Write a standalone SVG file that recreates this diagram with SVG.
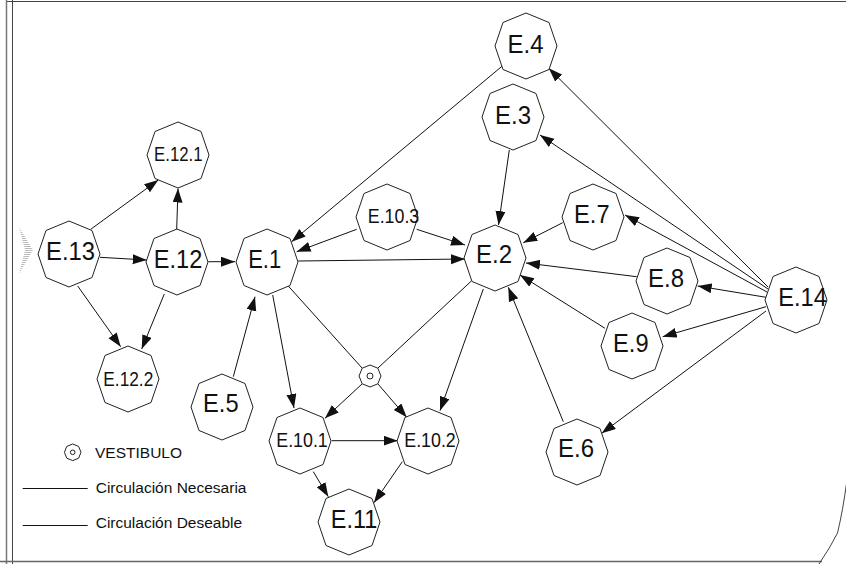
<svg xmlns="http://www.w3.org/2000/svg" xmlns:xlink="http://www.w3.org/1999/xlink" width="846" height="564" viewBox="0 0 846 564">
<style>
.oct{fill:#fff;stroke:#222;stroke-width:1}
.lbl{font-family:"Liberation Sans",Arial,sans-serif;font-size:25px;fill:#111;text-anchor:middle}
.sm{font-size:20px}
.leg{font-family:"Liberation Sans",Arial,sans-serif;font-size:15.5px;fill:#111}
.e{stroke:#111;stroke-width:1;fill:none}
.a{marker-end:url(#arr)}
.bd{stroke:#444;stroke-width:1;fill:none}
</style>
<defs>
<marker id="arr" markerUnits="userSpaceOnUse" markerWidth="15" markerHeight="11" refX="14" refY="5" orient="auto">
<path d="M0,0 L14,5 L0,10 z" fill="#111"/>
</marker>
<polygon id="oct" points="0,-33 23,-23.5 31,0 23,23.5 0,33 -23,23.5 -31,0 -23,-23.5"/>
<pattern id="hatch" width="4" height="2" patternUnits="userSpaceOnUse">
<rect width="4" height="2" fill="#fff"/>
<rect width="4" height="1" fill="#bbb"/>
</pattern>
</defs>
<rect width="846" height="564" fill="#fff"/>
<g id="border">
<line class="bd" x1="6" y1="1.5" x2="846" y2="1.5"/>
<line x1="6.5" y1="0" x2="6.5" y2="564" stroke="#777" stroke-width="1.5"/>
<line class="bd" x1="12.5" y1="0" x2="12.5" y2="564"/>
<line x1="0" y1="561.5" x2="822" y2="561.5" stroke="#666" stroke-width="1.5"/>
<path class="bd" d="M847,480 Q843,510 837.5,533 Q830,548 819,564"/>
<polygon points="19,227 33,250 19,274 25,250" fill="url(#hatch)"/>
</g>
<g id="connectors">
<line class="e a" x1="90.7" y1="229.3" x2="158.3" y2="180"/>
<line class="e a" x1="176.7" y1="229" x2="178" y2="188.5"/>
<line class="e a" x1="100" y1="257.3" x2="146.7" y2="260"/>
<line class="e a" x1="77.7" y1="286" x2="120.7" y2="346.7"/>
<line class="e a" x1="164.3" y1="294" x2="141.7" y2="349"/>
<line class="e a" x1="208.3" y1="261.7" x2="235" y2="261.7"/>
<line class="e a" x1="502.3" y1="66" x2="291.7" y2="241.7"/>
<line class="e a" x1="356.7" y1="229.3" x2="296.7" y2="251.7"/>
<line class="e a" x1="416.7" y1="229.3" x2="465" y2="245"/>
<line class="e a" x1="298.3" y1="261" x2="465" y2="259"/>
<line class="e a" x1="509.3" y1="150" x2="498.5" y2="225"/>
<line class="e a" x1="562.7" y1="222.7" x2="523.3" y2="242.7"/>
<line class="e a" x1="636.7" y1="276.7" x2="526" y2="263"/>
<line class="e a" x1="605" y1="328.3" x2="520" y2="275"/>
<line class="e a" x1="563.3" y1="421.7" x2="508.3" y2="287.3"/>
<line class="e a" x1="768" y1="287" x2="548.8" y2="68.3"/>
<line class="e a" x1="768" y1="289" x2="540" y2="135"/>
<line class="e a" x1="767" y1="292" x2="625" y2="215"/>
<line class="e a" x1="766" y1="297.3" x2="697.7" y2="286"/>
<line class="e a" x1="766" y1="306.7" x2="662.7" y2="336.7"/>
<line class="e a" x1="766" y1="311" x2="601.7" y2="433.3"/>
<line class="e a" x1="233.3" y1="376.7" x2="255" y2="296.7"/>
<line class="e a" x1="272.7" y1="295" x2="294" y2="408"/>
<line class="e" x1="288.3" y1="286" x2="362.2" y2="368.2"/>
<line class="e" x1="471.7" y1="280.7" x2="377.8" y2="368.2"/>
<line class="e a" x1="362.2" y1="383.8" x2="325" y2="418.3"/>
<line class="e a" x1="377.8" y1="383.8" x2="406.7" y2="417.3"/>
<line class="e a" x1="483.3" y1="289" x2="440" y2="410.7"/>
<line class="e a" x1="331.7" y1="440.7" x2="397.7" y2="440.7"/>
<line class="e a" x1="313.3" y1="471.7" x2="328.3" y2="496.7"/>
<line class="e a" x1="402.3" y1="461.7" x2="374" y2="502.7"/>
</g>
<g id="E4"><use xlink:href="#oct" href="#oct" class="oct" x="526" y="46"/><text class="lbl" x="525.5" y="52.5" textLength="36" lengthAdjust="spacingAndGlyphs">E.4</text></g>
<g id="E3"><use xlink:href="#oct" href="#oct" class="oct" x="513" y="117"/><text class="lbl" x="513" y="123.5" textLength="36" lengthAdjust="spacingAndGlyphs">E.3</text></g>
<g id="E12_1"><use xlink:href="#oct" href="#oct" class="oct" x="178" y="155"/><text class="lbl sm" x="178.3" y="161" textLength="48.5" lengthAdjust="spacingAndGlyphs">E.12.1</text></g>
<g id="E13"><use xlink:href="#oct" href="#oct" class="oct" x="69" y="254"/><text class="lbl" x="70.5" y="260" textLength="49" lengthAdjust="spacingAndGlyphs">E.13</text></g>
<g id="E12"><use xlink:href="#oct" href="#oct" class="oct" x="177" y="262"/><text class="lbl" x="178" y="268.3" textLength="48.5" lengthAdjust="spacingAndGlyphs">E.12</text></g>
<g id="E1"><use xlink:href="#oct" href="#oct" class="oct" x="267" y="262"/><text class="lbl" x="264.7" y="268.3" textLength="33" lengthAdjust="spacingAndGlyphs">E.1</text></g>
<g id="E10_3"><use xlink:href="#oct" href="#oct" class="oct" x="387" y="217"/><text class="lbl sm" x="393.5" y="223.3" textLength="51.5" lengthAdjust="spacingAndGlyphs">E.10.3</text></g>
<g id="E2"><use xlink:href="#oct" href="#oct" class="oct" x="495" y="258"/><text class="lbl" x="494" y="263.3" textLength="36" lengthAdjust="spacingAndGlyphs">E.2</text></g>
<g id="E7"><use xlink:href="#oct" href="#oct" class="oct" x="593" y="217"/><text class="lbl" x="591.8" y="222.7" textLength="35.5" lengthAdjust="spacingAndGlyphs">E.7</text></g>
<g id="E8"><use xlink:href="#oct" href="#oct" class="oct" x="667" y="281"/><text class="lbl" x="666" y="287.3" textLength="36" lengthAdjust="spacingAndGlyphs">E.8</text></g>
<g id="E14"><use xlink:href="#oct" href="#oct" class="oct" x="796" y="300"/><text class="lbl" x="802.5" y="306" textLength="48.5" lengthAdjust="spacingAndGlyphs">E.14</text></g>
<g id="E9"><use xlink:href="#oct" href="#oct" class="oct" x="632" y="346"/><text class="lbl" x="630.8" y="351.7" textLength="35.5" lengthAdjust="spacingAndGlyphs">E.9</text></g>
<g id="E12_2"><use xlink:href="#oct" href="#oct" class="oct" x="128" y="379"/><text class="lbl sm" x="128.3" y="386" textLength="50" lengthAdjust="spacingAndGlyphs">E.12.2</text></g>
<g id="E5"><use xlink:href="#oct" href="#oct" class="oct" x="222" y="407"/><text class="lbl" x="220.8" y="411.7" textLength="35.5" lengthAdjust="spacingAndGlyphs">E.5</text></g>
<g id="E6"><use xlink:href="#oct" href="#oct" class="oct" x="577" y="452"/><text class="lbl" x="576" y="457.3" textLength="36" lengthAdjust="spacingAndGlyphs">E.6</text></g>
<g id="E10_1"><use xlink:href="#oct" href="#oct" class="oct" x="300" y="441"/><text class="lbl sm" x="302" y="447.3" textLength="51.5" lengthAdjust="spacingAndGlyphs">E.10.1</text></g>
<g id="E10_2"><use xlink:href="#oct" href="#oct" class="oct" x="428" y="441"/><text class="lbl sm" x="430" y="447.3" textLength="51.5" lengthAdjust="spacingAndGlyphs">E.10.2</text></g>
<g id="E11"><use xlink:href="#oct" href="#oct" class="oct" x="349" y="522"/><text class="lbl" x="354" y="528.3" textLength="46.5" lengthAdjust="spacingAndGlyphs">E.11</text></g>
<g id="vestibulo">
<polygon class="oct" points="370,365 377.8,368.2 381,376 377.8,383.8 370,387 362.2,383.8 359,376 362.2,368.2"/>
<circle cx="370" cy="376" r="3" fill="none" stroke="#222" stroke-width="1"/>
</g>
<g id="legend">
<polygon class="oct" points="72.7,444 78.6,446.4 81,452.3 78.6,458.2 72.7,460.6 66.8,458.2 64.4,452.3 66.8,446.4"/>
<circle cx="72.7" cy="452.3" r="2.3" fill="none" stroke="#222" stroke-width="1"/>
<text class="leg" x="95" y="458.3">VESTIBULO</text>
<line class="e" x1="22.7" y1="488.5" x2="87.7" y2="488.5"/>
<text class="leg" x="95.7" y="492.7">Circulación Necesaria</text>
<line class="e" x1="22.7" y1="525.5" x2="87.7" y2="525.5"/>
<text class="leg" x="95.7" y="528.3">Circulación Deseable</text>
</g>
</svg>
